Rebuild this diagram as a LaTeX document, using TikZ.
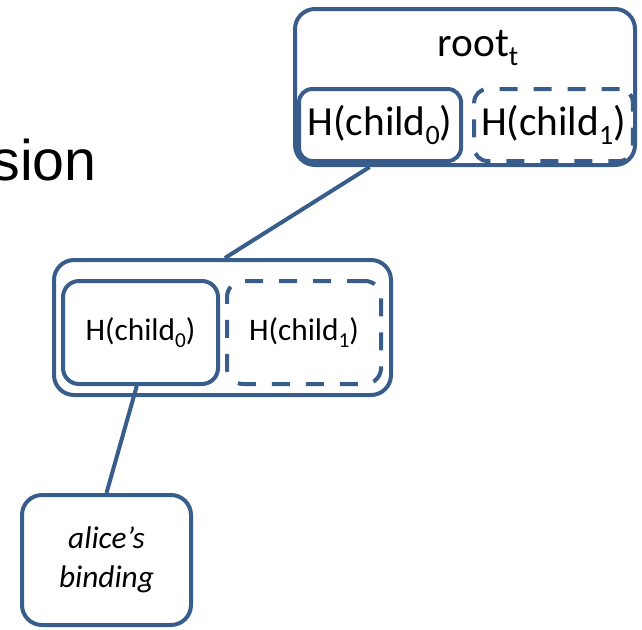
\documentclass[tikz,border=0pt]{standalone}
\usepackage{fontspec}
\setmainfont{Carlito}
\newfontfamily\arialface{Liberation Sans}
\definecolor{boxblue}{HTML}{385D8A}
% lowered subscripts, in the style of the slide font
\newcommand\subbig[1]{\raisebox{-7pt}{\fontsize{21}{21}\selectfont #1}}
\newcommand\subsmall[1]{\raisebox{-5.3pt}{\fontsize{16}{16}\selectfont #1}}
\tikzset{
  px/.style={x=0.75pt,y=-0.75pt},
  rbox/.style={draw=boxblue, line width=3pt, rounded corners=15pt, inner sep=0pt, align=center},
  dbox/.style={rbox, dash pattern=on 13.5pt off 12pt},
  link/.style={draw=boxblue, line width=3pt},
  bigtxt/.style={font=\fontsize{31}{36}\selectfont},
  smalltxt/.style={font=\fontsize{23.5}{28}\selectfont},
}
\begin{document}
\begin{tikzpicture}[px]
\useasboundingbox (0,0) rectangle (642,629);

% heading fragment at the left edge
\node[anchor=base east, inner sep=0pt, font=\arialface\fontsize{43}{50}\selectfont] (head) at (97,180) {sion};

% root node with its two child hashes
\node[rbox, minimum width=255pt, minimum height=117pt] (root) at (465,87) {};
\node[bigtxt, anchor=base, inner sep=0pt] (roottxt) at (478,56) {root\subbig{t}};
\node[rbox, bigtxt, rounded corners=10pt, minimum width=121.5pt, minimum height=54pt] (rc0) at (380,125) {H(child\subbig{0})};
\node[dbox, bigtxt, rounded corners=10pt, minimum width=119pt, minimum height=54pt] (rc1) at (553.5,125) {H(child\subbig{1})};

% intermediate node
\node[rbox, minimum width=252.75pt, minimum height=101.25pt] (mid) at (222.5,327.5) {};
\node[rbox, smalltxt, rounded corners=12pt, minimum width=116.25pt, minimum height=77.25pt] (mc0) at (140.5,332.5) {H(child\subsmall{0})};
\node[dbox, smalltxt, rounded corners=12pt, minimum width=115.5pt, minimum height=77.25pt] (mc1) at (304,332.5) {H(child\subsmall{1})};

% leaf
\node[rbox, font=\fontsize{23.5}{29}\selectfont\itshape, minimum width=126.75pt, minimum height=97.5pt] (leaf) at (106.5,560) {alice’s\\binding};

% connectors
\draw[link] (root.220) -- (mid.88);
\draw[link] (mc0.266) -- (leaf.90);
\end{tikzpicture}
\end{document}
